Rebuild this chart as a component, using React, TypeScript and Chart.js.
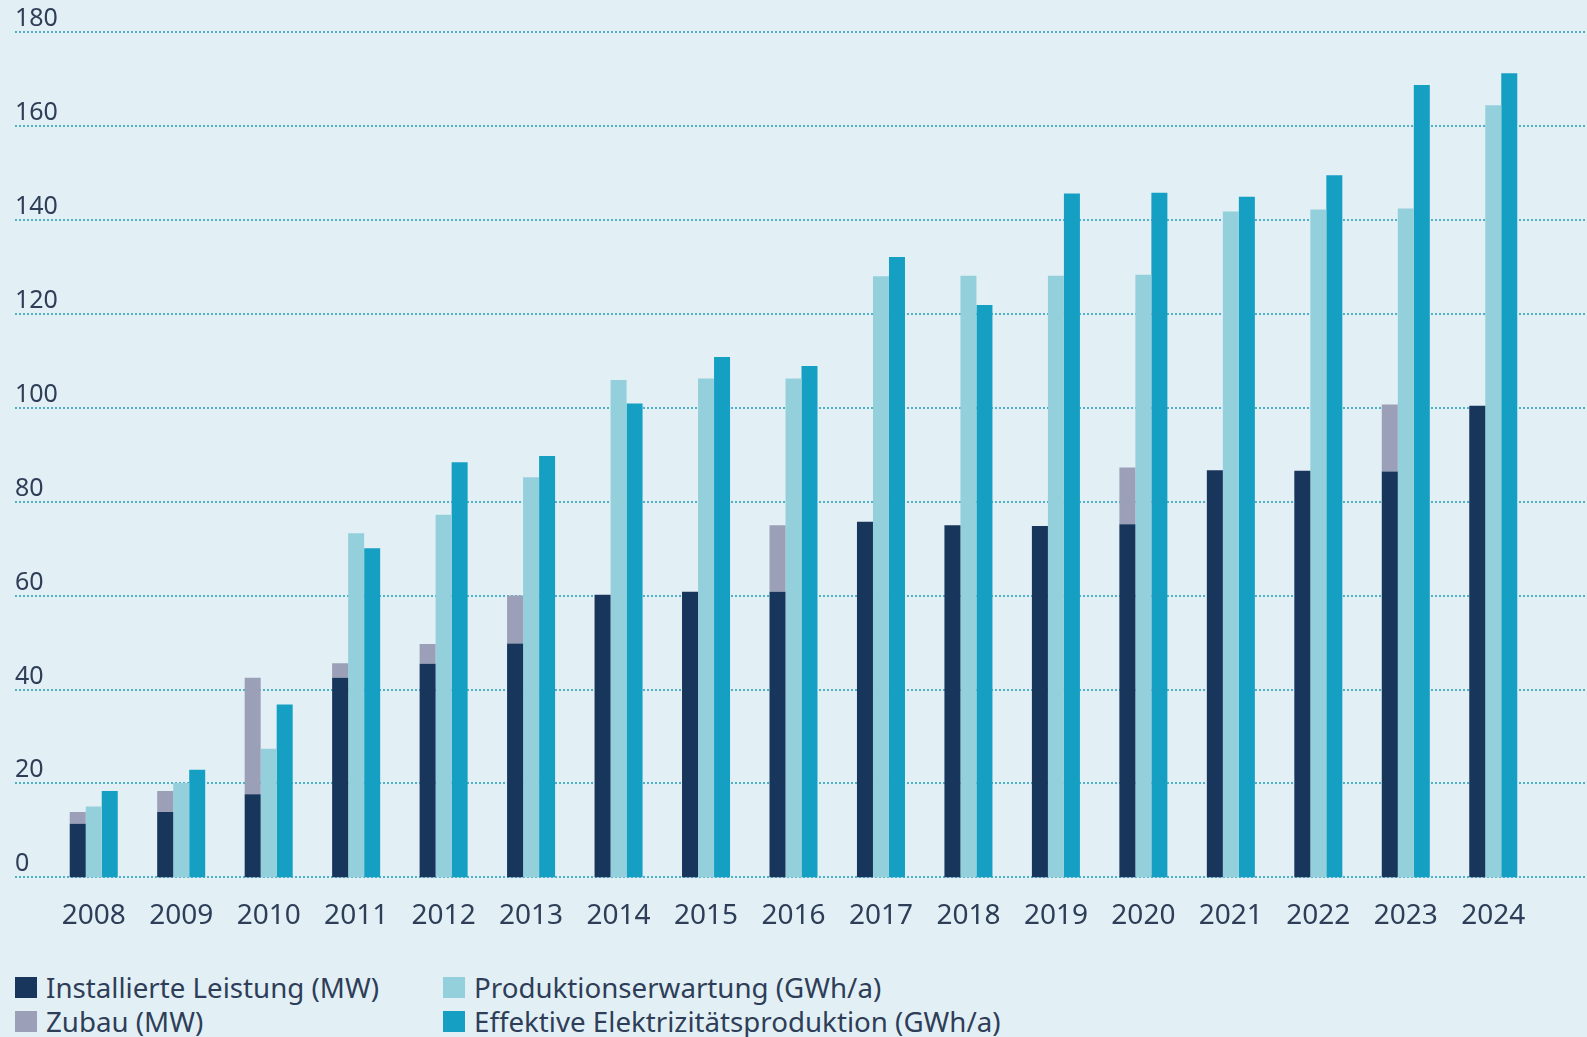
import React, { useEffect, useRef } from "react";
import { Chart, registerables } from "chart.js";

Chart.register(...registerables);

// Jahre (Kategorien der x-Achse)
const years = [
  "2008", "2009", "2010", "2011", "2012", "2013", "2014", "2015", "2016",
  "2017", "2018", "2019", "2020", "2021", "2022", "2023", "2024",
];

// Installierte Leistung am Jahresanfang (MW)
const installierteLeistung = [
  11.4, 13.9, 17.7, 42.5, 45.5, 49.8, 60.2, 60.8, 60.8,
  75.7, 75.0, 74.8, 75.2, 86.7, 86.6, 86.4, 100.4,
];

// Zubau im Jahr (MW), auf die installierte Leistung gestapelt
const zubau = [
  2.5, 4.5, 24.8, 3.1, 4.2, 10.2, null, null, 14.2,
  null, null, null, 12.1, null, null, 14.3, null,
];

// Produktionserwartung (GWh/a)
const produktionserwartung = [
  15.1, 20.1, 27.4, 73.3, 77.2, 85.2, 105.9, 106.2, 106.2,
  128.0, 128.1, 128.1, 128.3, 141.8, 142.2, 142.4, 164.4,
];

// Effektive Elektrizitätsproduktion (GWh/a)
const effektiveProduktion = [
  18.4, 22.9, 36.8, 70.1, 88.4, 89.7, 100.9, 110.8, 108.9,
  132.1, 121.9, 145.6, 145.8, 144.9, 149.5, 168.7, 171.2,
];

const yMax = 180;
const yStep = 20;

const BG = "#e2f0f5";
const TEXT = "#2f3e58";
const GRID = "#4fb1c6";
const NAVY = "#18355c";
const ZUBAU = "#9b9fb8";
const PROD = "#94d0dc";
const EFF = "#15a0c3";
const FONT = "'Noto Sans', 'Open Sans', sans-serif";

const legendItems = [
  { label: "Installierte Leistung (MW)", color: NAVY, left: 15, center: 987 },
  { label: "Zubau (MW)", color: ZUBAU, left: 15, center: 1021 },
  { label: "Produktionserwartung (GWh/a)", color: PROD, left: 443, center: 987 },
  { label: "Effektive Elektrizitätsproduktion (GWh/a)", color: EFF, left: 443, center: 1021 },
];

// Dotted horizontal grid with left-aligned value labels sitting on the lines,
// spanning the full canvas width.
const dottedGrid = {
  id: "dottedGrid",
  beforeDatasetsDraw(chart: any) {
    const { ctx } = chart;
    const y = chart.scales.y;
    ctx.save();
    ctx.strokeStyle = GRID;
    ctx.lineWidth = 2;
    ctx.setLineDash([2, 2]);
    ctx.fillStyle = TEXT;
    ctx.font = `25px ${FONT}`;
    ctx.textAlign = "left";
    ctx.textBaseline = "alphabetic";
    for (const t of y.ticks) {
      const py = Math.round(y.getPixelForValue(t.value));
      ctx.beginPath();
      ctx.moveTo(15, py);
      ctx.lineTo(chart.width, py);
      ctx.stroke();
      ctx.fillText(String(t.value), 15, py - 6);
    }
    ctx.restore();
  },
};

function BarChart() {
  const ref = useRef<HTMLCanvasElement | null>(null);

  useEffect(() => {
    if (!ref.current) return;
    const chart = new Chart(ref.current, {
      type: "bar",
      data: {
        labels: years,
        datasets: [
          {
            label: "Installierte Leistung (MW)",
            data: installierteLeistung,
            backgroundColor: NAVY,
            stack: "leistung",
          },
          {
            label: "Zubau (MW)",
            data: zubau,
            backgroundColor: ZUBAU,
            stack: "leistung",
          },
          {
            label: "Produktionserwartung (GWh/a)",
            data: produktionserwartung,
            backgroundColor: PROD,
            stack: "erwartung",
          },
          {
            label: "Effektive Elektrizitätsproduktion (GWh/a)",
            data: effektiveProduktion,
            backgroundColor: EFF,
            stack: "effektiv",
          },
        ] as any,
      },
      options: {
        animation: false,
        responsive: false,
        devicePixelRatio: 1,
        datasets: {
          bar: {
            barPercentage: 1,
            categoryPercentage: 0.549,
            borderWidth: 0,
          },
        },
        layout: { padding: { left: 50, right: 50, top: 32, bottom: 0 } },
        plugins: {
          legend: { display: false },
          tooltip: { enabled: false },
        },
        scales: {
          x: {
            stacked: true,
            grid: { display: false, drawTicks: false },
            border: { display: false },
            ticks: {
              color: TEXT,
              font: { family: FONT, size: 28 },
              padding: 22,
              maxRotation: 0,
            },
          },
          y: {
            stacked: true,
            min: 0,
            max: yMax,
            grid: { display: false, drawTicks: false },
            border: { display: false },
            ticks: { stepSize: yStep, display: false },
          },
        },
      },
      plugins: [dottedGrid],
    });
    return () => chart.destroy();
  }, []);

  return (
    <canvas
      ref={ref}
      width={1587}
      height={955}
      style={{ display: "block", position: "absolute", left: 0, top: 0 }}
    />
  );
}

export default function App() {
  return (
    <div
      style={{
        position: "fixed",
        left: 0,
        top: 0,
        width: 1587,
        height: 1037,
        background: BG,
        overflow: "hidden",
        fontFamily: FONT,
      }}
    >
      <BarChart />
      {legendItems.map((it) => (
        <div
          key={it.label}
          style={{
            position: "absolute",
            left: it.left,
            top: it.center - 16,
            height: 32,
            display: "flex",
            alignItems: "center",
            color: TEXT,
            fontSize: 27.7,
            whiteSpace: "nowrap",
          }}
        >
          <span
            style={{
              display: "inline-block",
              width: 22,
              height: 21,
              background: it.color,
              marginRight: 9,
            }}
          />
          {it.label}
        </div>
      ))}
    </div>
  );
}
